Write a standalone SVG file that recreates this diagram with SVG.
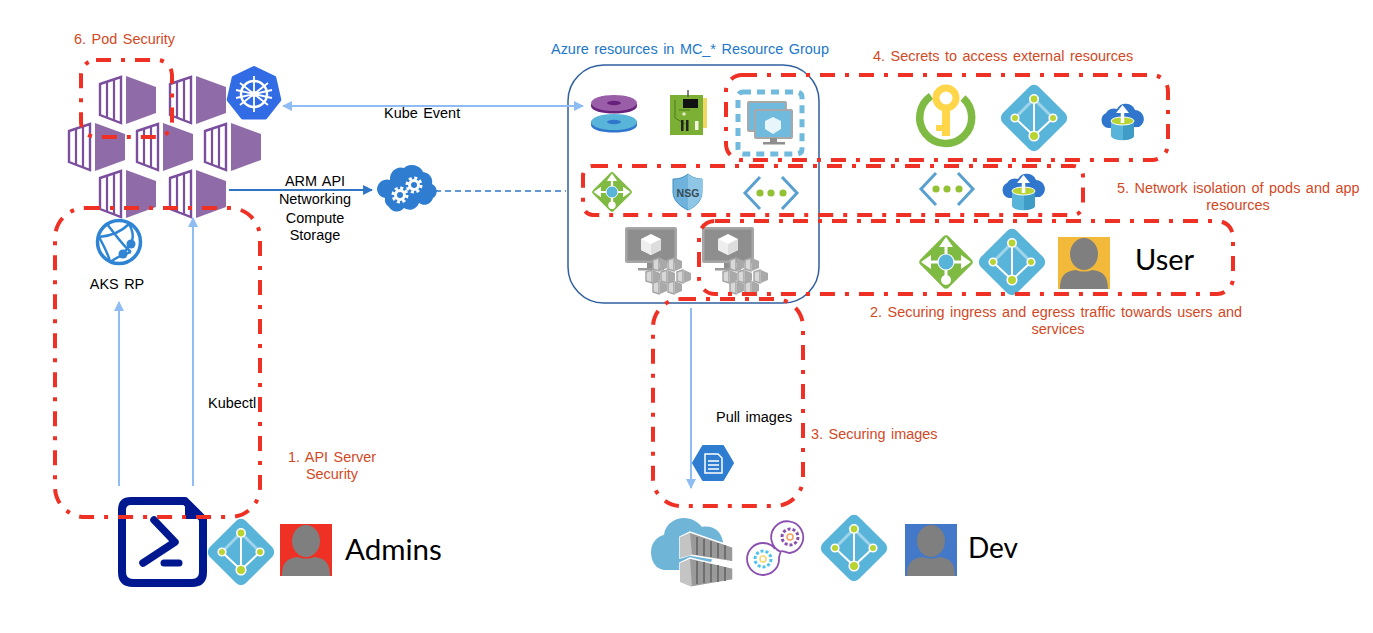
<svg xmlns="http://www.w3.org/2000/svg" xmlns:xlink="http://www.w3.org/1999/xlink" width="1373" height="633" viewBox="0 0 1373 633">
<style>
text{font-family:"Liberation Sans",Arial,sans-serif;font-size:14.450px;fill:#000;word-spacing:1.500px}
.o{fill:#d2491f}
.b{fill:#2278c9}
.big{font-family:Lato,"Open Sans",sans-serif;font-size:29px;word-spacing:0}
.red{fill:none;stroke:#ee3124;stroke-width:4;stroke-dasharray:15 10 4 10}
.lite{fill:none;stroke:#8fbdf3;stroke-width:2}
.dark{fill:none;stroke:#2e75c6;stroke-width:2.200}
</style>
<defs>
<marker id="al" viewBox="0 0 10 10" refX="9" refY="5" markerWidth="5" markerHeight="5" orient="auto-start-reverse" markerUnits="strokeWidth"><path d="M0 0L10 5L0 10z" fill="#8fbdf3"/></marker>
<marker id="ad" viewBox="0 0 10 10" refX="9" refY="5" markerWidth="4.500" markerHeight="4.500" orient="auto" markerUnits="strokeWidth"><path d="M0 0L10 5L0 10z" fill="#2e75c6"/></marker>
<g id="pod">
<polygon points="1,8 22,1 22,47 1,39" fill="#fff" stroke="#7b4f9d" stroke-width="2.400"/>
<path d="M8 6V42M15 4V44" stroke="#7b4f9d" stroke-width="2.200"/>
<polygon points="27,0 57,11 57,37 27,48" fill="#8f6ba8"/>
</g>
<g id="aad">
<rect x="-25.500" y="-25.500" width="51" height="51" rx="7" transform="rotate(45)" fill="#59b4d9"/>
<path d="M0 -19L-19 0M0 -19L19 0" stroke="#9fd4ea" stroke-width="3"/>
<path d="M0 -19V18M-19 0L0 18M19 0L0 18" stroke="#fff" stroke-width="2"/>
<g fill="#b8d432" stroke="#fff" stroke-width="1.600"><circle cy="-19" r="4.200"/><circle cx="-19" r="3.800"/><circle cx="19" r="3.800"/><circle cy="18" r="4.800"/></g>
</g>
<g id="lb">
<rect x="-20" y="-20" width="40" height="40" rx="4" transform="rotate(45)" fill="#7fba42"/>
<path d="M0 -20V18M-20 0H20" stroke="#fff" stroke-width="3"/>
<path d="M0 -25L-7 -15H7zM-25 0L-15 -7V7zM25 0L15 -7V7z" fill="#fff"/>
<circle cy="18" r="5" fill="#fff"/>
<circle r="8" fill="#59b4d9" stroke="#fff" stroke-width="1.200"/>
</g>
<g id="vnet">
<path d="M-11 -16L-26 0L-11 16M11 -16L26 0L11 16" fill="none" stroke="#59a0d0" stroke-width="3"/>
<g fill="#93c135"><circle cx="-11" r="3.600"/><circle r="3.600"/><circle cx="12" r="3.600"/></g>
</g>
<g id="store">
<path d="M-14 7a8 8 0 0 1 -2 -15a9 9 0 0 1 11 -4a10 10 0 0 1 18 1a9 9 0 0 1 4 17z" fill="#2f76cc"/>
<path d="M-11 0V15a11 4 0 0 0 23 0V0z" fill="#59b4d9"/>
<path d="M1 3V19a11 4 0 0 0 11 -4V0z" fill="#3f9cc6"/>
<ellipse cx="0.500" cy="0" rx="11.500" ry="4" fill="#b8d432" stroke="#fff"/>
<path d="M0.500 2V-9" stroke="#fff" stroke-width="3.500"/>
<path d="M0.500 -16L-6 -8H7z" fill="#fff"/>
</g>
<g id="person">
<rect width="52" height="52" fill="currentColor"/>
<ellipse cx="26" cy="17" rx="14" ry="16" fill="#7f7f7f"/>
<path d="M2 52C2 38 8 34 18 33C22 35 30 35 34 33C44 34 50 38 50 52z" fill="#7f7f7f"/>
</g>
<g id="cube">
<path d="M0 -10L10 -5V6L0 11L-10 6V-5z" fill="#fff"/>
<path d="M0 0L10 -5V6L0 11z" fill="#ddd"/>
<path d="M0 0L-10 -5V6L0 11z" fill="#eee"/>
</g>
<g id="mini">
<polygon points="0,2 6,0 6,13 0,11" fill="#d8d8d8" stroke="#a5a5a5" stroke-width="1.500"/>
<polygon points="7,0 14,3 14,10 7,13" fill="#a9a9a9"/>
</g>
<g id="aksnode">
<rect width="52" height="36" rx="2" fill="#a6a6a6"/>
<rect x="2.500" y="2.500" width="47" height="31" fill="#8e8e8e"/>
<use href="#cube" x="26" y="17"/>
<path d="M22 36H30V41H22z" fill="#8e8e8e"/><rect x="13" y="41" width="26" height="2.500" fill="#9a9a9a"/>
<use href="#mini" x="28" y="31"/><use href="#mini" x="43" y="31"/>
<use href="#mini" x="21" y="43"/><use href="#mini" x="36" y="43"/><use href="#mini" x="52" y="43"/>
<use href="#mini" x="28" y="54"/><use href="#mini" x="43" y="54"/>
</g>
</defs>

<g id="pods">
<use href="#pod" x="99" y="76"/><use href="#pod" x="169" y="76"/>
<use href="#pod" x="68" y="123"/><use href="#pod" x="136" y="123"/><use href="#pod" x="204" y="123"/>
<use href="#pod" x="99" y="170"/><use href="#pod" x="169" y="170"/>
</g>
<g id="k8s" transform="translate(254 94)">
<polygon points="0,-26 20.300,-16.200 25.300,5.800 11.300,23.400 -11.300,23.400 -25.300,5.800 -20.300,-16.200" fill="#326ce5" stroke="#326ce5" stroke-width="4" stroke-linejoin="round"/>
<circle r="13" fill="none" stroke="#fff" stroke-width="2.500"/>
<path d="M0 -18V18M-14 -11L14 11M14 -11L-14 11M-18 4L18 -4M18 4L-18 -4" stroke="#fff" stroke-width="1.800"/>
<circle r="3" fill="#fff"/>
</g>
<g id="aksrp" transform="translate(119 242)">
<circle r="21.500" fill="#fff" stroke="#2f85d4" stroke-width="3.500"/>
<path d="M-20 -5C-8 -6 2 -10 10 -18M-12 -18C-4 -8 4 4 12 10M12 10C4 12 -6 18 -9 20M-20 -5C-14 6 -10 14 -9 20M4 12C12 2 18 -4 10 -18" fill="none" stroke="#2f85d4" stroke-width="2.500"/>
<circle cx="12" cy="2" r="4.500" fill="#2f85d4"/><circle cx="4" cy="12" r="4.500" fill="#2f85d4"/>
</g>
<g id="cloudapi" transform="translate(405 190)">
<path d="M-16 17a9 9 0 0 1 -4 -9a9 9 0 0 1 -8 -9a10 10 0 0 1 13 -9a11 11 0 0 1 14 -12a12 12 0 0 1 19 4a10 10 0 0 1 9 12a8 8 0 0 1 1 14a9 9 0 0 1 -14 5a10 10 0 0 1 -15 5a9 9 0 0 1 -15 -1z" fill="#2e7dd1"/>
<g fill="none" stroke="#fff"><circle cx="-5" cy="5" r="4.500" stroke-width="3"/><circle cx="-5" cy="5" r="7" stroke-width="3" stroke-dasharray="3 2.500"/><circle cx="9" cy="-5" r="4.500" stroke-width="3"/><circle cx="9" cy="-5" r="7" stroke-width="3" stroke-dasharray="3 2.500"/></g>
</g>
<g id="disks">
<path d="M591 121V125C591 135 637 135 637 125V121z" fill="#2f76cc"/>
<ellipse cx="614" cy="122" rx="23" ry="8" fill="#59b4d9"/>
<ellipse cx="614" cy="122" rx="7" ry="2.200" fill="#2f76cc"/>
<path d="M591 104V106C591 116 637 116 637 106V104z" fill="#68217a"/>
<ellipse cx="614" cy="103" rx="23" ry="8" fill="#9a5ea8"/>
<ellipse cx="614" cy="103" rx="7" ry="2.200" fill="#68217a"/>
</g>
<g id="nic">
<rect x="701" y="98" width="6" height="30" fill="#f0d75f"/>
<rect x="670" y="95" width="33" height="40" fill="#7cb034"/>
<path d="M688 90V97" stroke="#5a5a5a" stroke-width="1.500"/>
<rect x="683" y="99" width="15" height="9" fill="#111"/>
<path d="M675 100V118L685 124M679 110H690" fill="none" stroke="#4d7a1c" stroke-width="1"/>
<rect x="681" y="120" width="2.500" height="11" fill="#222"/><rect x="686" y="120" width="2.500" height="11" fill="#222"/><rect x="695" y="121" width="3.500" height="9" fill="#f3f3e0"/>
<circle cx="684" cy="114" r="1.800" fill="#dfe9c0"/>
</g>
<g id="vmss">
<rect x="738" y="92" width="64" height="62" rx="5" fill="none" stroke="#6fbadd" stroke-width="5" stroke-dasharray="8 6"/>
<rect x="748" y="102" width="38" height="29" rx="1" fill="#6fbadd" stroke="#a8a8a8" stroke-width="2"/>
<rect x="755" y="110" width="37" height="28" rx="1" fill="#6fbadd" stroke="#a8a8a8" stroke-width="2"/>
<path d="M773 117L781 121V129L773 134L765 129V121z" fill="#e8f6fb"/>
<path d="M770 138H777V142H770z" fill="#8e8e8e"/><rect x="763" y="142" width="22" height="2.500" fill="#8e8e8e"/>
</g>
<use id="lb1" href="#lb" transform="translate(612 192) scale(.74)"/>
<g id="nsg">
<path d="M688 174C693 178 697 179 702 179V192C702 201 695 207 688 210C681 207 673 201 673 192V179C678 179 683 178 688 174z" fill="#6fb3dc" stroke="#3f8fc2"/>
<path d="M688 174C693 178 697 179 702 179V192C702 201 695 207 688 210z" fill="#8fc6e6"/>
<text x="688" y="197" text-anchor="middle" style="font-size:10.500px;font-weight:bold;fill:#394a55;word-spacing:0">NSG</text>
</g>
<use id="vnet1" href="#vnet" transform="translate(771 193)"/>
<use id="node1" href="#aksnode" x="625" y="227"/>
<use id="node2" href="#aksnode" x="702" y="227"/>
<g id="keyvault" transform="translate(946 118)">
<path d="M-15 -22A26 26 0 1 0 17 -20" fill="none" stroke="#7fba42" stroke-width="7.500"/>
<circle cy="-20" r="10" fill="none" stroke="#ffd54a" stroke-width="7"/>
<path d="M-4 -10H4V18H-4zM-10 7H-4V13H-10z" fill="#ffd54a"/>
</g>
<use id="aad1" href="#aad" transform="translate(1034 118)"/>
<use id="storage1" href="#store" transform="translate(1122 121)"/>
<use id="vnet2" href="#vnet" transform="translate(947 189)"/>
<use id="storage2" href="#store" transform="translate(1023 191)"/>
<use id="lb2" href="#lb" transform="translate(946 262)"/>
<use id="aad2" href="#aad" transform="translate(1012 262)"/>
<use id="user" href="#person" x="1058" y="237" color="#f2b93b"/>
<text id="user-label" class="big" x="1135" y="270" style="font-size:29px">User</text>
<g id="powershell">
<path d="M131 501H185L203 519V572Q203 583 192 583H133Q122 583 122 572V510Q122 501 131 501z" fill="#fff" stroke="#00188f" stroke-width="8" stroke-linejoin="round"/>
<path d="M185 497L207 519H185z" fill="#00188f"/>
<path d="M154 520L175 542L143 563" fill="none" stroke="#00188f" stroke-width="7.500" stroke-linecap="round" stroke-linejoin="round"/>
<path d="M164 563H179" stroke="#00188f" stroke-width="7" stroke-linecap="round"/>
</g>
<use id="aad3" href="#aad" transform="translate(241 552)"/>
<use id="admin" href="#person" x="280" y="524" color="#ee3124"/>
<text id="admin-label" class="big" x="345" y="560" style="font-size:29.500px">Admins</text>
<g id="acr" transform="translate(713 463)">
<polygon points="-20,0 -10,-17 10,-17 20,0 10,17 -10,17" fill="#2e7dd1" stroke="#2e7dd1" stroke-linejoin="round" stroke-width="2"/>
<path d="M-8 -9H5L9 -5V10H-8z" fill="none" stroke="#fff" stroke-width="1.500"/>
<path d="M-5 -2H6M-5 2H6M-5 6H6" stroke="#fff" stroke-width="1.500"/>
</g>
<g id="registry">
<path d="M666 570C655 570 651 560 651 552C651 542 658 536 664 535C665 524 675 518 684 518C692 518 698 522 702 527C712 525 721 530 723 542L706 570z" fill="#6fb5d8"/>
<polygon points="680,537 690,532 733,547 733,562 690,555 680,558" fill="#9a9a9a" stroke="#fff" stroke-width="1.500"/>
<polygon points="680,537 690,533 692,555 680,558" fill="#c4c4c4"/>
<polygon points="680,563 690,558 733,568 733,580 692,587 680,582" fill="#9a9a9a" stroke="#fff" stroke-width="1.500"/>
<polygon points="680,563 690,559 692,587 680,582" fill="#c4c4c4"/>
<path d="M697 537V555M704 539V556M711 541V557M718 543V558M725 545V559M697 561V584M704 562V583M711 564V582M718 565V582M725 567V581" stroke="#6f6f6f" stroke-width="2"/>
</g>
<g id="devops" fill="none">
<path d="M781 552A16 16 0 1 1 790 553C783 553 781 546 779 558A16 16 0 1 1 763 543C770 543 774 547 775 549" stroke="#8a4fb0" stroke-width="1.800"/>
<circle cx="790" cy="537" r="8" stroke="#8a4fb0" stroke-width="3" stroke-dasharray="3 2"/>
<circle cx="790" cy="537" r="3" stroke="#f0a060" stroke-width="1.500"/>
<circle cx="763" cy="559" r="8" stroke="#4fc3f0" stroke-width="3" stroke-dasharray="3 2"/>
<circle cx="763" cy="559" r="3" stroke="#f5d76e" stroke-width="1.500"/>
</g>
<use id="aad4" href="#aad" transform="translate(854 548)"/>
<use id="dev" href="#person" x="905" y="524" color="#4478c8"/>
<text id="dev-label" class="big" x="968" y="558" style="font-size:28px">Dev</text>

<g id="connectors">
<rect x="568" y="65" width="251" height="238" rx="36" fill="none" stroke="#2f5f9e" stroke-width="1.500"/>
<path class="lite" d="M283 106H583" marker-start="url(#al)" marker-end="url(#al)"/>
<path class="dark" d="M229 190H372" marker-end="url(#ad)"/>
<path d="M435 191H566" fill="none" stroke="#2e75c6" stroke-width="1.500" stroke-dasharray="6 4"/>
<path class="lite" d="M119 486V302" marker-end="url(#al)"/>
<path class="lite" d="M193 486V218" marker-end="url(#al)"/>
<path class="lite" d="M691 308V488" marker-end="url(#al)"/>
</g>
<g id="boundaries">
<rect class="red" x="81" y="60" width="91" height="77" rx="15"/>
<rect class="red" x="55" y="208" width="205" height="309" rx="30"/>
<rect class="red" x="726" y="75" width="442" height="85" rx="16"/>
<rect class="red" x="583" y="166" width="500" height="49" rx="10"/>
<rect class="red" x="699" y="221" width="534" height="73" rx="16"/>
<rect class="red" x="653" y="299" width="150" height="207" rx="28"/>
</g>
<g id="labels">
<text class="o" x="74" y="44">6. Pod Security</text>
<text class="b" x="551" y="54">Azure resources in MC_* Resource Group</text>
<text class="o" x="873" y="61">4. Secrets to access external resources</text>
<text class="o" x="1117" y="193">5. Network isolation of pods and app</text>
<text class="o" x="1238" y="210" text-anchor="middle">resources</text>
<text class="o" x="870" y="317">2. Securing ingress and egress traffic towards users and</text>
<text class="o" x="1058" y="334" text-anchor="middle">services</text>
<text class="o" x="811" y="439">3. Securing images</text>
<text class="o" x="288" y="462">1. API Server</text>
<text class="o" x="332" y="479" text-anchor="middle">Security</text>
<text x="384" y="118">Kube Event</text>
<text x="315" y="186" text-anchor="middle">ARM API</text>
<text x="315" y="204" text-anchor="middle">Networking</text>
<text x="315" y="223" text-anchor="middle">Compute</text>
<text x="315" y="240" text-anchor="middle">Storage</text>
<text x="117" y="289" text-anchor="middle">AKS RP</text>
<text x="208" y="408">Kubectl</text>
<text x="716" y="422">Pull images</text>
</g>
</svg>
